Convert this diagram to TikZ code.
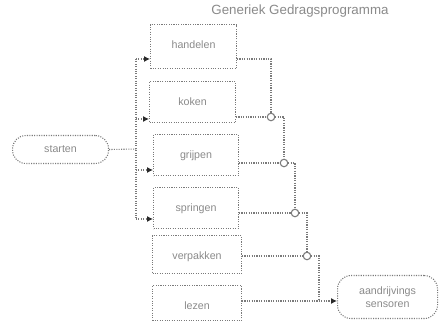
\documentclass[tikz,border=0pt]{standalone}
\usepackage{fontspec}
\setmainfont{Liberation Sans}
\usetikzlibrary{arrows.meta}
\definecolor{ln}{HTML}{7A7A7A}
\definecolor{tx}{HTML}{8A8A8A}
\definecolor{hd}{HTML}{2A2A2A}
\begin{document}
\begin{tikzpicture}[x=0.75pt,y=-0.75pt,
  line/.style={draw=ln, densely dotted, line width=0.8pt},
  arr/.style={line, -{Latex[length=4.5pt,width=4.5pt,color=hd,fill=hd]}},
  box/.style={draw=ln, densely dotted, line width=0.8pt, rectangle, inner sep=0pt,
    anchor=north west, minimum width=#1*0.75pt},
  lbl/.style={anchor=north, yshift=-9pt, text=tx, font=\fontsize{8}{9.5}\selectfont},
  term/.style={draw=ln, densely dotted, line width=0.8pt, rounded corners=10pt,
    inner sep=0pt, anchor=north west, text=tx, align=center,
    font=\fontsize{8}{9.5}\selectfont},
  junc/.style={draw=ln, line width=0.8pt, circle, fill=white, inner sep=0pt,
    minimum size=7.5*0.75pt},
  ttl/.style={text=tx, font=\fontsize{10}{12}\selectfont}]
\useasboundingbox (0,0) rectangle (439,323);
\node[ttl] (title) at (300,11) {Generiek Gedragsprogramma};
% boxes
\node[box=86, minimum height=44*0.75pt, label={[lbl]north:handelen}] (b1) at (150,24) {};
\node[box=86, minimum height=41*0.75pt, label={[lbl]north:koken}] (b2) at (149,81) {};
\node[box=85, minimum height=41*0.75pt, label={[lbl]north:grijpen}] (b3) at (153,134) {};
\node[box=85, minimum height=41*0.75pt, label={[lbl]north:springen}] (b4) at (153,187) {};
\node[box=89, minimum height=38*0.75pt, label={[lbl]north:verpakken}] (b5) at (152,235) {};
\node[box=89, minimum height=35*0.75pt, label={[lbl]north:lezen}] (b6) at (152,285) {};
% terminals
\node[term, minimum width=96*0.75pt, minimum height=28*0.75pt] (start) at (12,135) {starten};
\node[term, minimum width=100*0.75pt, minimum height=43*0.75pt] (stop) at (337,275) {aandrijvings\\sensoren};
% bus
\coordinate (bt) at (136,59);
\coordinate (bm) at (136,149);
\coordinate (bb) at (136,219);
\coordinate (y2) at (136,119);
\coordinate (y3) at (136,170);
\draw[line] (start.east) -- (bm);
\draw[line] (bt) -- (bb);
\draw[arr] (bt) -- (b1.west |- bt);
\draw[arr] (y2) -- (b2.west |- y2);
\draw[arr] (y3) -- (b3.west |- y3);
\draw[arr] (bb) -- (b4.west |- bb);
% junctions
\node[junc] (j1) at (271,117) {};
\node[junc] (j2) at (284,163) {};
\node[junc] (j3) at (295,213) {};
\node[junc] (j4) at (307,256) {};
\coordinate (o6) at (241,301);
\coordinate (k4) at (319,301);
\draw[line] (b1.east |- bt) -| (j1);
\draw[line] (b2.east |- j1) -- (j1);
\draw[line] (j1) -| (j2);
\draw[line] (b3.east |- j2) -- (j2);
\draw[line] (j2) -| (j3);
\draw[line] (b4.east |- j3) -- (j3);
\draw[line] (j3) -| (j4);
\draw[line] (b5.east |- j4) -- (j4);
\draw[line] (j4) -| (k4);
\draw[arr] (b6.east |- o6) -- (stop.west |- o6);
\end{tikzpicture}
\end{document}
